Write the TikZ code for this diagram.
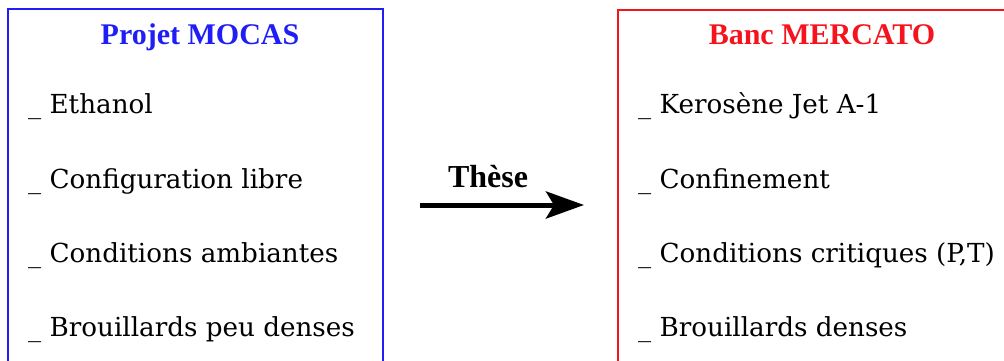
\documentclass[tikz,border=0pt]{standalone}
\usepackage{fontspec}
\setmainfont{DejaVu Serif}
\newfontfamily\titlefont{Liberation Serif}
\usetikzlibrary{arrows.meta}
\definecolor{boxblue}{RGB}{30,30,245}
\definecolor{boxred}{RGB}{245,20,30}
\begin{document}
\begin{tikzpicture}[x=1pt,y=-1pt,
  frame/.style={line width=2.2pt},
  titletxt/.style={font=\titlefont\fontsize{30}{30}\selectfont\bfseries, anchor=base},
  item/.style={font=\fontsize{26.2}{26.2}\selectfont, anchor=base west, inner sep=0pt},
  bigarrow/.style={line width=5pt, -{Stealth[length=38pt,width=27pt,inset=8pt]}}]
\useasboundingbox (0,0) rectangle (1004,361);
\clip (0,0) rectangle (1004,361);
\draw[frame, boxblue] (8,380) -- (8,9) -- (383,9) -- (383,380);
\draw[frame, boxred] (618,380) -- (618,10) -- (1020,10) ;
\node[titletxt, text=boxblue] (t1) at (200,45) {Projet MOCAS};
\node[titletxt, text=boxred] (t2) at (822,45) {Banc MERCATO};
\node[item] (l1) at (28,113) {\_ Ethanol};
\node[item] (l2) at (28,188) {\_ Configuration libre};
\node[item] (l3) at (28,262) {\_ Conditions ambiantes};
\node[item] (l4) at (28,336) {\_ Brouillards peu denses};
\node[item] (r1) at (638,113) {\_ Kerosène Jet A-1};
\node[item] (r2) at (638,188) {\_ Confinement};
\node[item] (r3) at (638,262) {\_ Conditions critiques (P,T)};
\node[item] (r4) at (638,336) {\_ Brouillards denses};
\node[font=\titlefont\fontsize{32}{32}\selectfont\bfseries, anchor=base] (th) at (488,187) {Thèse};
\coordinate (a0) at (420,205);
\coordinate (a1) at (584,205);
\draw[bigarrow] (a0) -- (a1);
\end{tikzpicture}
\end{document}
